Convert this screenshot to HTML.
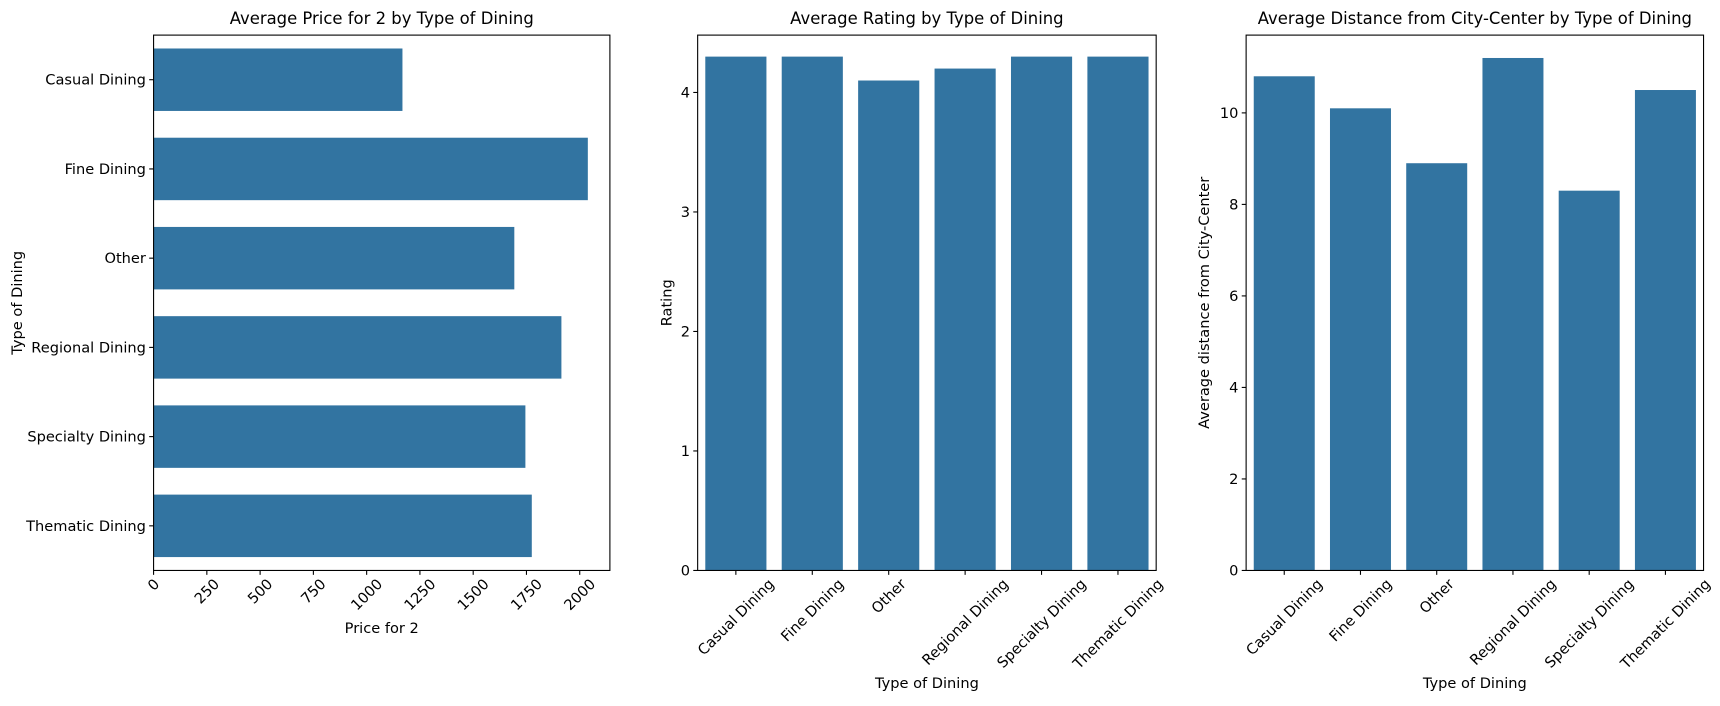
<!DOCTYPE html>
<html><head><meta charset="utf-8"><style>
body{margin:0;background:#fff;}
svg text{font-family:"DejaVu Sans","Liberation Sans",sans-serif;fill:#000;}
</style></head><body>
<svg id="c" width="1720" height="701" viewBox="0 0 1568 639" preserveAspectRatio="none" xmlns="http://www.w3.org/2000/svg"></svg>
<script>
const categories=["Casual Dining","Fine Dining","Other","Regional Dining","Specialty Dining","Thematic Dining"];
const priceValues=[1168,2038,1693,1914,1745,1775];
const priceTicks=[0,250,500,750,1000,1250,1500,1750,2000];
const ratingValues=[4.3,4.3,4.1,4.2,4.3,4.3];
const ratingTicks=[0,1,2,3,4];
const distValues=[10.8,10.1,8.9,11.2,8.3,10.5];
const distTicks=[0,2,4,6,8,10];

const svg=document.getElementById('c');
const NS="http://www.w3.org/2000/svg";
const C="#3274a1";
const FS=13.3, TS=15;
function mk(tag,attrs,parent){const e=document.createElementNS(NS,tag);for(const k in attrs)e.setAttribute(k,attrs[k]);(parent||svg).appendChild(e);return e;}
function txt(x,y,s,size,anchor,extra){const t=mk('text',Object.assign({x:x,y:y,'font-size':size,'text-anchor':anchor||'middle'},extra||{}));t.textContent=s;return t;}
function rotLabel(x,s){
  const t=txt(x,0,s,FS,'middle');
  const w=t.getComputedTextLength();
  const off=w/2*0.7071;
  const cx=x, cy=BOT+10+off;
  t.setAttribute('x',cx);t.setAttribute('y',cy+4.5);
  t.setAttribute('transform',`rotate(-45 ${cx} ${cy})`);
  return t;
}

const TOP=32,BOT=520;
(function(){
  const L=140,R=556;
  const xs=v=>L+v*(388.5/2000);
  const band=(BOT-TOP)/categories.length;
  const g=mk('g',{});
  
  
  categories.forEach((c,i)=>{
    const cy=TOP+band*(i+0.5);
    const r=mk('rect',{x:L,y:cy-band*0.35,width:xs(priceValues[i])-L,height:band*0.7,fill:C},g);
    
    
    mk('line',{x1:L-4,x2:L,y1:cy,y2:cy,stroke:'#000'},g);
    const t=txt(L-7,cy+4.5,c,FS,'end');
    
    
  });
  priceTicks.forEach(v=>{
    const x=xs(v);
    mk('line',{x1:x,x2:x,y1:BOT,y2:BOT+4,stroke:'#000'},g);
    const t=rotLabel(x,String(v));
    
    
  });
  const f=mk('rect',{x:L,y:TOP,width:R-L,height:BOT-TOP,fill:'none',stroke:'#000','stroke-width':1},g);
  
  
  let t=txt((L+R)/2,22,'Average Price for 2 by Type of Dining',TS);
  
  t=txt((L+R)/2,577,'Price for 2',FS);
  
  t=txt(20,276,'Type of Dining',FS,'middle',{transform:'rotate(-90 20 276)'});
  
})();

function vchart(L,R,vals,ticks,ymax,title,ylab,ylx,name){
  const ys=v=>BOT-v*(BOT-TOP)/ymax;
  const band=(R-L)/categories.length;
  const g=mk('g',{});
  
  
  categories.forEach((c,i)=>{
    const cx=L+band*(i+0.5);
    const r=mk('rect',{x:cx-band*0.4,y:ys(vals[i]),width:band*0.8,height:BOT-ys(vals[i]),fill:C},g);
    
    
    mk('line',{x1:cx,x2:cx,y1:BOT,y2:BOT+4,stroke:'#000'},g);
    const t=rotLabel(cx,c);
    
    
  });
  ticks.forEach(v=>{
    const y=ys(v);
    mk('line',{x1:L-4,x2:L,y1:y,y2:y,stroke:'#000'},g);
    const t=txt(L-7,y+4.5,String(v),FS,'end');
    
    
  });
  const f=mk('rect',{x:L,y:TOP,width:R-L,height:BOT-TOP,fill:'none',stroke:'#000'},g);
  
  
  let t=txt((L+R)/2,22,title,TS);
  
  t=txt((L+R)/2,627,'Type of Dining',FS);
  
  t=txt(ylx,276,ylab,FS,'middle',{transform:`rotate(-90 ${ylx} 276)`});
  
}
vchart(636,1054,ratingValues,ratingTicks,4.48,'Average Rating by Type of Dining','Rating',612,'rating');
vchart(1136,1553,distValues,distTicks,11.7,'Average Distance from City-Center by Type of Dining','Average distance from City-Center',1102,'distance');
</script>
</body></html>
